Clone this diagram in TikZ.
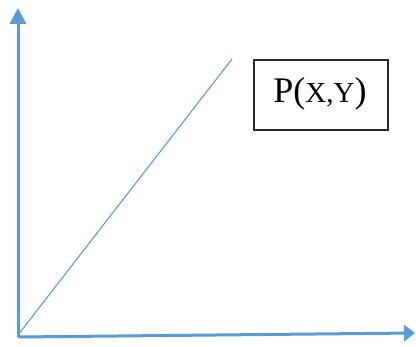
\documentclass[tikz,border=0pt]{standalone}
\usepackage{fontspec}
\setmainfont{Liberation Serif}
\usetikzlibrary{arrows.meta}
\definecolor{axisblue}{RGB}{91,155,213}
\definecolor{boxgray}{RGB}{40,40,40}
\tikzset{
  axis/.style={draw=axisblue, line width=3pt},
  diag/.style={draw=axisblue, line width=1.1pt},
  labelbox/.style={draw=boxgray, line width=1.4pt, minimum width=134pt, minimum height=70pt, inner sep=0pt},
  labeltext/.style={inner sep=0pt, font=\fontsize{36}{42}\selectfont}
}
\newcommand{\smallcapsize}{\fontsize{29}{34}\selectfont}
\begin{document}
\begin{tikzpicture}[x=1pt,y=-1pt]
\useasboundingbox (0,0) rectangle (416,347);
\coordinate (O) at (18,337);
\coordinate (ytip) at (18,8);
\coordinate (xtip) at (415,333);
\coordinate (dstart) at (18,335);
\coordinate (dend) at (232,59);
\draw[axis, -{Triangle[width=16pt,length=16pt]}] (O) -- (ytip);
\draw[axis, -{Triangle[width=16pt,length=11pt]}] (O) -- (xtip);
\draw[diag] (dstart) -- (dend);
\node[labelbox] (box) at (321,95) {};
\node[labeltext, anchor=base] (lbl) at (320,103) {P({\smallcapsize X,Y})};
\end{tikzpicture}
\end{document}
